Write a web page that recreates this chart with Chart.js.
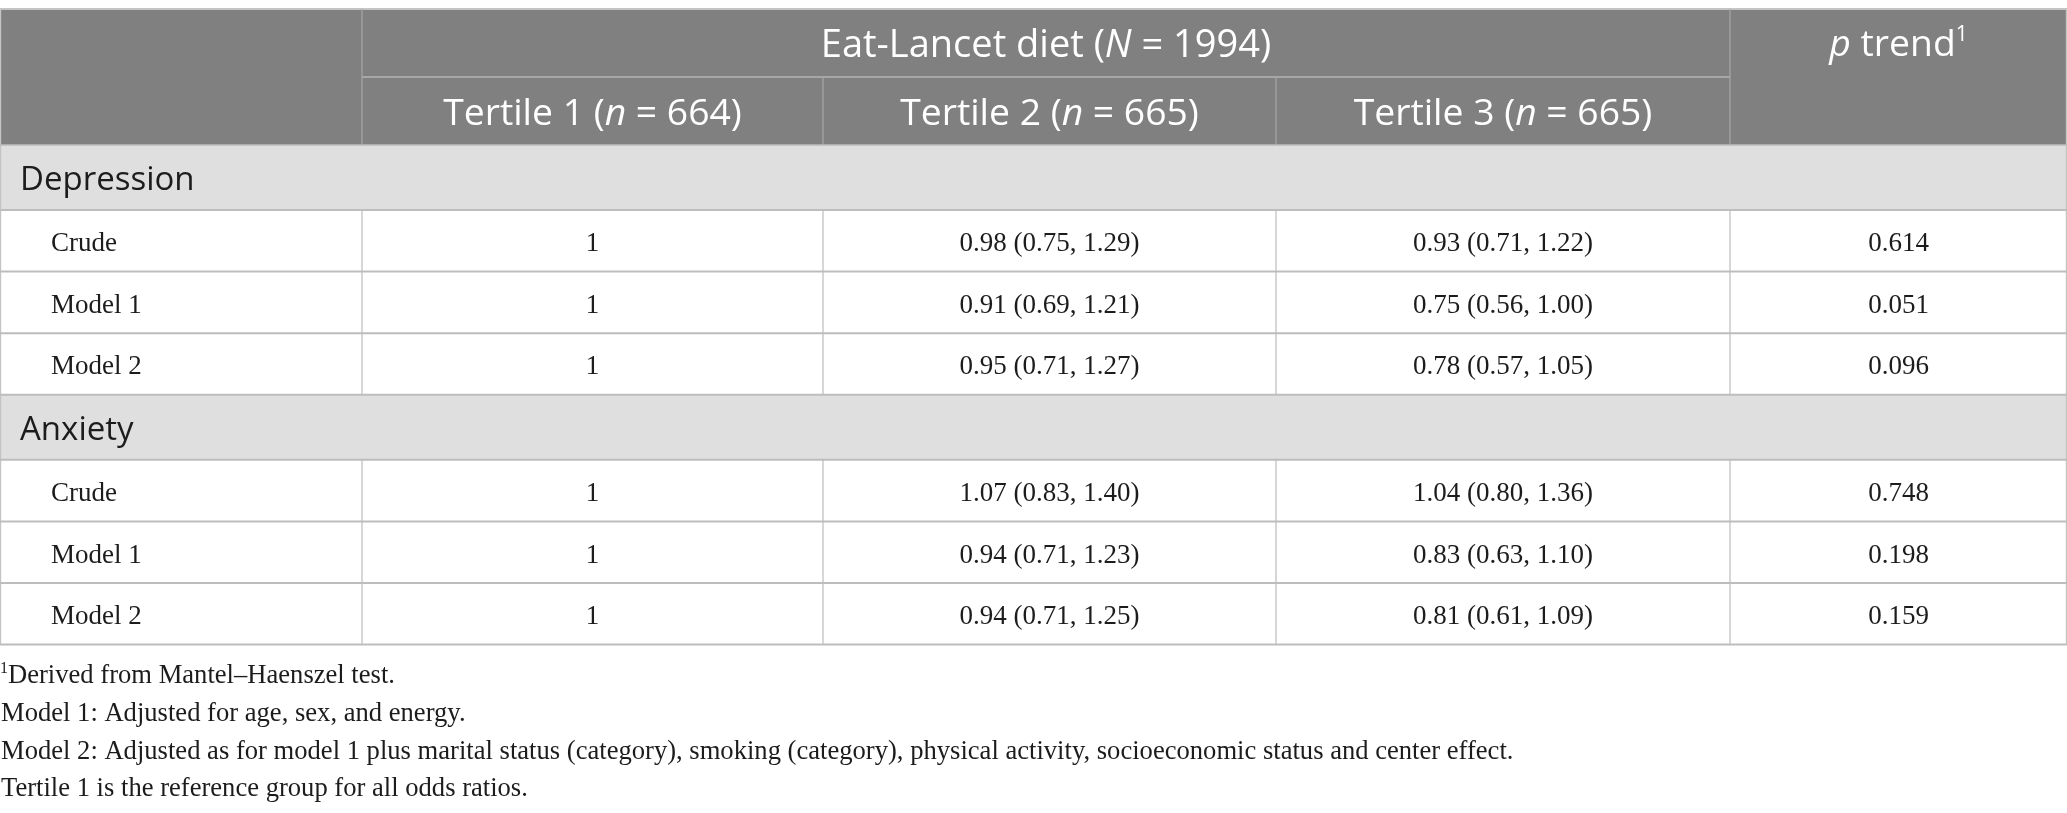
<!DOCTYPE html>
<html>
<head>
<meta charset="utf-8">
<script src="https://cdn.jsdelivr.net/npm/chart.js@4.4.1/dist/chart.umd.min.js"></script>
<style>
  html, body { margin: 0; padding: 0; background: #ffffff; }
  #wrap { width: 2067px; height: 813px; }
  canvas { display: block; }
</style>
</head>
<body>
<div id="wrap"><canvas id="c" width="2067" height="813"></canvas></div>
<script>
// ---------------- DATA ----------------
const groups = ['Depression', 'Anxiety'];
const models = ['Crude', 'Model 1', 'Model 2'];
const tertiles = ['Tertile 1', 'Tertile 2', 'Tertile 3'];
const tertileN = [664, 665, 665];
const totalN = 1994;
const dietName = 'Eat-Lancet diet';
const trendLabel = 'trend';
const tertile1OR = 1;

const depT2 = [0.98, 0.91, 0.95];
const depT2Lo = [0.75, 0.69, 0.71];
const depT2Hi = [1.29, 1.21, 1.27];
const depT3 = [0.93, 0.75, 0.78];
const depT3Lo = [0.71, 0.56, 0.57];
const depT3Hi = [1.22, 1.00, 1.05];
const depP = [0.614, 0.051, 0.096];

const anxT2 = [1.07, 0.94, 0.94];
const anxT2Lo = [0.83, 0.71, 0.71];
const anxT2Hi = [1.40, 1.23, 1.25];
const anxT3 = [1.04, 0.83, 0.81];
const anxT3Lo = [0.80, 0.63, 0.61];
const anxT3Hi = [1.36, 1.10, 1.09];
const anxP = [0.748, 0.198, 0.159];

const footnoteMark = '1';
const footnotes = [
  'Derived from Mantel\u2013Haenszel test.',
  'Model 1: Adjusted for age, sex, and energy.',
  'Model 2: Adjusted as for model 1 plus marital status (category), smoking (category), physical activity, socioeconomic status and center effect.',
  'Tertile 1 is the reference group for all odds ratios.'
];

// ---------------- LAYOUT (table units on the chart's scales) ----------------
const W = 2067, H = 813;
const colEdges = [0, 362, 823, 1276, 1730, 2067];
const headTop = 9, headMid = 77, headBottom = 145;
const sectionH = 65, dataH = 61.6;
const footBaselines = [683, 721, 758.5, 796];
const labelIndent = 51;

const SANS = '"Open Sans", "Noto Sans", sans-serif';
const SERIF = '"Liberation Serif", "DejaVu Serif", serif';
const C_HEAD = '#7f807f';
const C_SECTION = '#e0dfe0';
const C_LINE = '#bdbdbd';
const C_HEADLINE = '#a6a7a6';
const C_TEXT = '#1c1c1c';

function fmtCI(or, lo, hi) {
  return or.toFixed(2) + ' (' + lo.toFixed(2) + ', ' + hi.toFixed(2) + ')';
}

// build table body rows from the data arrays
const seriesByGroup = [
  { t2: depT2, t2lo: depT2Lo, t2hi: depT2Hi, t3: depT3, t3lo: depT3Lo, t3hi: depT3Hi, p: depP },
  { t2: anxT2, t2lo: anxT2Lo, t2hi: anxT2Hi, t3: anxT3, t3lo: anxT3Lo, t3hi: anxT3Hi, p: anxP }
];
const bodyRows = [];
groups.forEach((g, gi) => {
  bodyRows.push({ kind: 'section', label: g });
  const s = seriesByGroup[gi];
  models.forEach((m, mi) => {
    bodyRows.push({
      kind: 'data',
      cells: [m, String(tertile1OR), fmtCI(s.t2[mi], s.t2lo[mi], s.t2hi[mi]),
              fmtCI(s.t3[mi], s.t3lo[mi], s.t3hi[mi]), s.p[mi].toFixed(3)]
    });
  });
});
let yy = headBottom;
bodyRows.forEach(r => { r.top = yy; yy += (r.kind === 'section' ? sectionH : dataH); r.bottom = yy; });

// rich text helper: segments [{t, f, dy}]
function drawRich(ctx, segs, x, y, align, color) {
  let total = 0;
  segs.forEach(s => { ctx.font = s.f; s.w = ctx.measureText(s.t).width; total += s.w; });
  let cx = align === 'center' ? x - total / 2 : (align === 'right' ? x - total : x);
  ctx.fillStyle = color;
  ctx.textBaseline = 'alphabetic';
  ctx.textAlign = 'left';
  segs.forEach(s => { ctx.font = s.f; ctx.fillText(s.t, cx, y + (s.dy || 0)); cx += s.w; });
}

const tablePlugin = {
  id: 'tablePlugin',
  beforeDraw(chart) {
    const ctx = chart.ctx;
    const xs = chart.scales.x, ys = chart.scales.y;
    const X = v => xs.getPixelForValue(v);
    const Y = v => ys.getPixelForValue(v);
    const tableBottom = bodyRows[bodyRows.length - 1].bottom;
    ctx.save();
    ctx.fillStyle = '#ffffff';
    ctx.fillRect(X(0), Y(0), X(W) - X(0), Y(H) - Y(0));

    // header background
    ctx.fillStyle = C_HEAD;
    ctx.fillRect(X(colEdges[0]), Y(headTop), X(colEdges[5]) - X(colEdges[0]), Y(headBottom) - Y(headTop));
    // section backgrounds
    bodyRows.forEach(r => {
      if (r.kind === 'section') {
        ctx.fillStyle = C_SECTION;
        ctx.fillRect(X(0), Y(r.top), X(colEdges[5]) - X(0), Y(r.bottom) - Y(r.top));
      }
    });

    const hline = (x0, x1, y, color, w) => {
      ctx.strokeStyle = color; ctx.lineWidth = w;
      ctx.beginPath(); ctx.moveTo(X(x0), Y(y)); ctx.lineTo(X(x1), Y(y)); ctx.stroke();
    };
    const vline = (x, y0, y1, color, w) => {
      ctx.strokeStyle = color; ctx.lineWidth = w;
      ctx.beginPath(); ctx.moveTo(X(x), Y(y0)); ctx.lineTo(X(x), Y(y1)); ctx.stroke();
    };

    // header lines
    hline(0, W, headTop, '#c4c4c4', 2);
    hline(colEdges[1], colEdges[4], headMid, C_HEADLINE, 2);
    vline(colEdges[1], headTop, headBottom, C_HEADLINE, 1.2);
    vline(colEdges[4], headTop, headBottom, C_HEADLINE, 1.2);
    vline(colEdges[2], headMid, headBottom, C_HEADLINE, 1.2);
    vline(colEdges[3], headMid, headBottom, C_HEADLINE, 1.2);
    // outer left / right borders
    vline(colEdges[0] + 0.6, headTop, tableBottom, '#c4c4c4', 1.2);
    vline(colEdges[5] - 0.6, headTop, tableBottom, '#c4c4c4', 1.2);

    // body lines
    bodyRows.forEach(r => {
      hline(0, W, r.bottom, C_LINE, 2);
      if (r.kind === 'data') {
        for (let i = 1; i < colEdges.length - 1; i++) vline(colEdges[i], r.top, r.bottom, C_LINE, 1.2);
      }
    });
    hline(0, W, headBottom, C_LINE, 1.5);

    // header text
    const hf = `400 37.3px ${SANS}`, hfi = `italic 400 37.3px ${SANS}`;
    const hf2 = `400 38px ${SANS}`, hf2i = `italic 400 38px ${SANS}`;
    const spanMid = (X(colEdges[1]) + X(colEdges[4])) / 2;
    drawRich(ctx, [
      { t: dietName + ' (', f: hf2 }, { t: 'N', f: hf2i }, { t: ' = ' + totalN + ')', f: hf2 }
    ], spanMid, Y(57), 'center', '#ffffff');
    tertiles.forEach((t, i) => {
      const cxm = (X(colEdges[i + 1]) + X(colEdges[i + 2])) / 2;
      drawRich(ctx, [
        { t: t + ' (', f: hf }, { t: 'n', f: hfi }, { t: ' = ' + tertileN[i] + ')', f: hf }
      ], cxm, Y(125), 'center', '#ffffff');
    });
    const pMid = (X(colEdges[4]) + X(colEdges[5])) / 2;
    drawRich(ctx, [
      { t: 'p', f: hfi }, { t: ' ' + trendLabel, f: hf }, { t: footnoteMark, f: `400 21px ${SANS}`, dy: -15 }
    ], pMid, Y(56), 'center', '#ffffff');

    // body text
    const bf = `400 27px ${SERIF}`;
    bodyRows.forEach(r => {
      const mid = (r.top + r.bottom) / 2;
      if (r.kind === 'section') {
        drawRich(ctx, [{ t: r.label, f: `400 33px ${SANS}` }], X(20), Y(mid + 12.5), 'left', C_TEXT);
      } else {
        r.cells.forEach((c, i) => {
          if (i === 0) {
            drawRich(ctx, [{ t: c, f: bf }], X(labelIndent), Y(mid + 10.3), 'left', C_TEXT);
          } else {
            const cxm = (X(colEdges[i]) + X(colEdges[i + 1])) / 2;
            drawRich(ctx, [{ t: c, f: bf }], cxm, Y(mid + 10.3), 'center', C_TEXT);
          }
        });
      }
    });

    // footnotes
    const ff = `400 26.6px ${SERIF}`;
    footnotes.forEach((f, i) => {
      const segs = [];
      if (i === 0) segs.push({ t: footnoteMark, f: `400 16px ${SERIF}`, dy: -10 });
      segs.push({ t: f, f: ff });
      drawRich(ctx, segs, X(i === 0 ? 0 : 1), Y(footBaselines[i]), 'left', C_TEXT);
    });
    ctx.restore();
  }
};

new Chart(document.getElementById('c'), {
  type: 'scatter',
  data: { datasets: [{ data: [], pointRadius: 0 }] },
  options: {
    responsive: false,
    animation: false,
    devicePixelRatio: 1,
    layout: { padding: 0 },
    plugins: { legend: { display: false }, tooltip: { enabled: false }, title: { display: false } },
    scales: {
      x: { type: 'linear', min: 0, max: W, display: false },
      y: { type: 'linear', min: 0, max: H, reverse: true, display: false }
    }
  },
  plugins: [tablePlugin]
});
</script>
</body>
</html>
